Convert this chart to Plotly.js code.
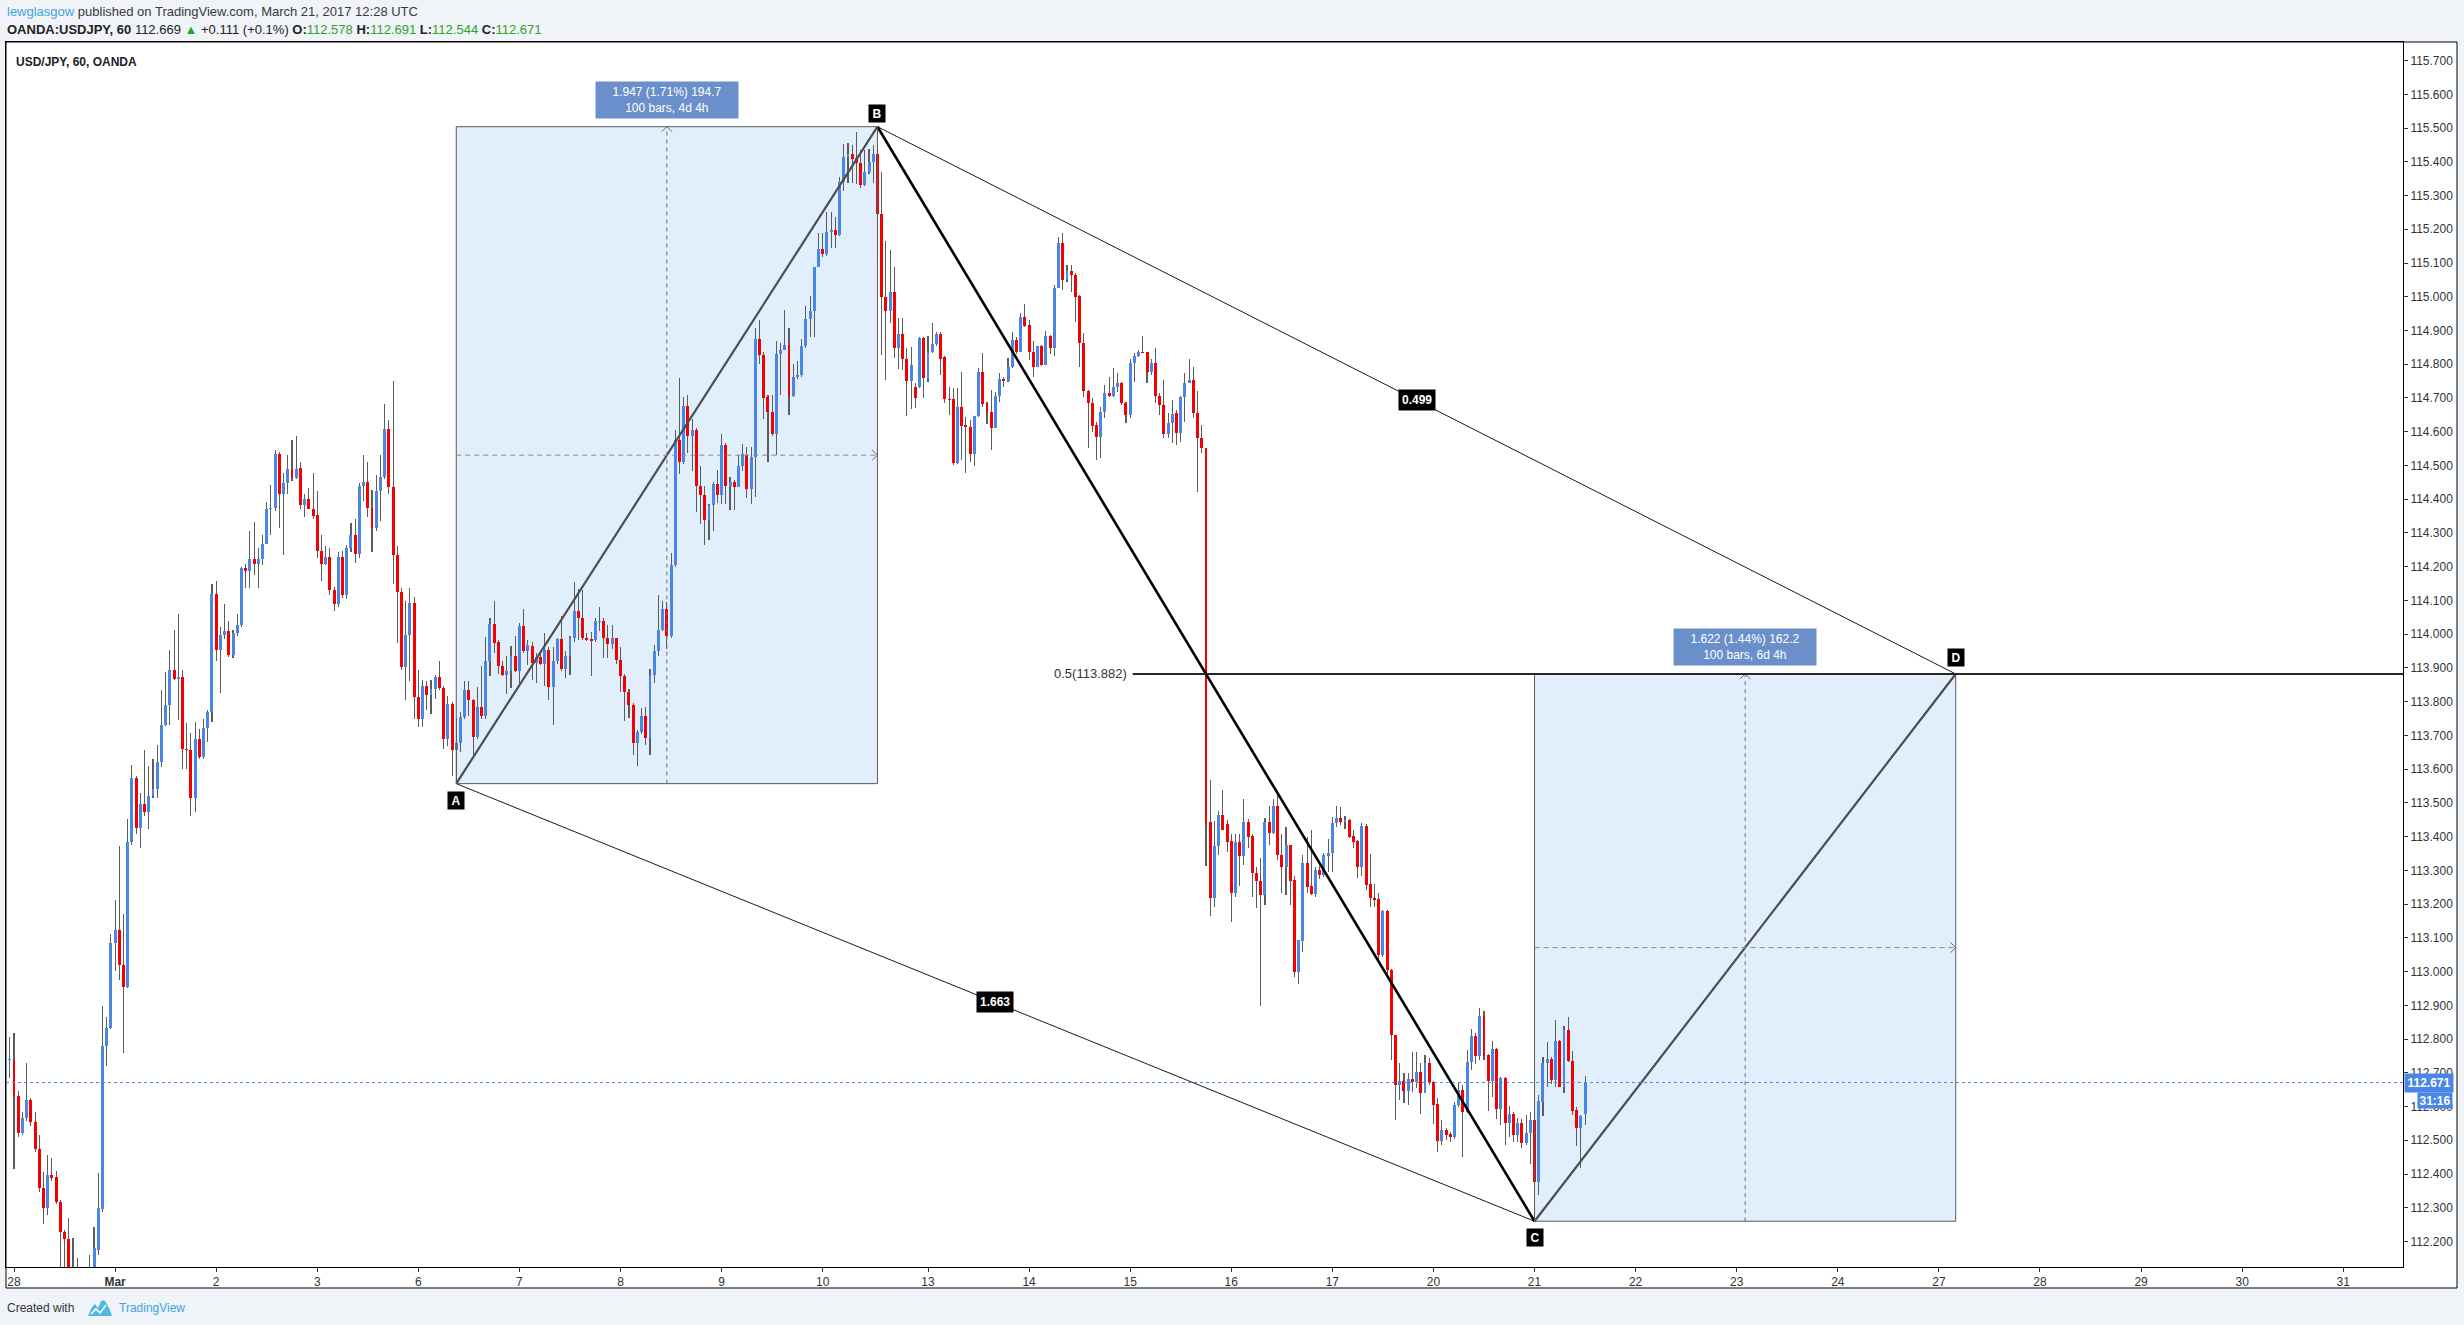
<!DOCTYPE html>
<html><head><meta charset="utf-8">
<script src="https://cdn.plot.ly/plotly-3.0.1.min.js"></script>
<style>
html,body{margin:0;padding:0;background:#f0f3f7;overflow:hidden}
#chart{width:2464px;height:1325px}
#chart .barlayer path{shape-rendering:crispEdges}
</style>
</head><body><div id="chart"></div>
<script>
// ---------------- DATA ----------------
const firstIdx = -2; // bar index of first value (bar 0 = Feb 28 00:00)
const open = [
112.69,112.737,112.737,112.630,112.521,112.567,112.618,112.555,112.473,112.358,112.300,112.397,
112.392,112.317,112.227,112.206,112.080,111.950,111.850,111.750,111.900,112.050,
112.176,112.295,112.780,112.834,113.086,113.123,113.018,112.953,113.383,113.574,
113.426,113.497,113.474,113.520,113.542,113.622,113.732,113.790,113.894,113.868,
113.872,113.661,113.656,113.514,113.688,113.637,113.722,113.770,114.120,113.952,
113.999,114.008,113.938,114.003,114.028,114.195,114.188,114.222,114.207,114.222,
114.268,114.370,114.375,114.535,114.414,114.447,114.489,114.464,114.493,114.382,
114.401,114.372,114.353,114.246,114.209,114.229,114.132,114.090,114.229,114.115,
114.256,114.294,114.239,114.438,114.452,114.375,114.316,114.425,114.467,114.608,
114.435,114.234,114.124,113.902,113.999,114.093,113.814,113.749,113.846,113.819,
113.838,113.873,113.839,113.690,113.792,113.656,113.676,113.754,113.834,113.804,
113.695,113.783,113.758,113.919,114.030,113.976,113.905,113.879,113.890,113.936,
113.892,114.025,113.949,113.966,113.916,113.932,113.913,113.953,113.843,113.919,
113.985,113.896,113.936,113.989,114.068,114.048,113.989,113.985,113.982,114.035,
114.038,113.989,113.972,113.989,113.923,113.876,113.830,113.790,113.678,113.711,
113.757,113.691,113.879,113.949,114.011,114.075,113.995,114.204,114.575,114.509,
114.677,114.588,114.604,114.439,114.412,114.339,114.382,114.445,114.412,114.562,
114.439,114.452,114.435,114.498,114.531,114.429,114.525,114.875,114.826,114.703,
114.657,114.593,114.829,114.842,114.858,114.707,114.763,114.769,114.855,114.935,
114.959,115.087,115.142,115.127,115.193,115.199,115.183,115.341,115.414,115.424,
115.411,115.395,115.332,115.371,115.398,115.424,115.244,115.000,114.959,115.015,
114.849,114.889,114.815,114.751,114.732,114.732,114.879,114.755,114.835,114.860,
114.889,114.820,114.696,114.696,114.506,114.674,114.620,114.613,114.533,114.647,
114.776,114.684,114.658,114.610,114.706,114.756,114.751,114.793,114.872,114.835,
114.939,114.916,114.835,114.791,114.855,114.798,114.884,114.849,115.025,115.158,
115.050,115.076,115.065,115.002,114.862,114.722,114.686,114.620,114.585,114.657,
114.714,114.706,114.732,114.743,114.684,114.650,114.803,114.825,114.835,114.835,
114.776,114.803,114.706,114.679,114.593,114.625,114.655,114.595,114.702,114.743,
114.753,114.655,114.580,114.551,113.444,113.219,113.372,113.464,113.437,113.387,
113.232,113.385,113.342,113.444,113.402,113.293,113.269,113.227,113.444,113.411,
113.490,113.345,113.311,113.375,113.271,112.999,113.091,113.321,113.253,113.230,
113.301,113.286,113.342,113.350,113.441,113.454,113.444,113.449,113.402,113.388,
113.311,113.431,113.259,113.217,113.214,113.049,113.180,113.006,112.812,112.663,
112.676,112.647,112.683,112.673,112.701,112.641,112.730,112.673,112.607,112.498,
112.530,112.518,112.510,112.604,112.649,112.584,112.733,112.809,112.750,112.868,
112.752,112.676,112.770,112.594,112.686,112.550,112.579,112.515,112.550,112.491,
112.523,112.560,112.377,112.614,112.730,112.740,112.678,112.795,112.659,112.827,
112.736,112.589,112.537,112.578];
const high = [
112.76,112.805,112.817,112.647,112.584,112.728,112.626,112.584,112.516,112.405,112.456,112.448,
112.409,112.324,112.235,112.269,112.210,112.150,111.950,112.000,112.159,112.244,
112.402,112.899,112.865,113.111,113.213,113.372,113.171,113.452,113.613,113.579,
113.528,113.656,113.610,113.630,113.671,113.834,113.889,113.953,114.013,114.059,
113.894,113.736,113.707,113.741,113.719,113.749,113.775,114.149,114.158,114.021,
114.090,114.038,114.013,114.059,114.200,114.209,114.307,114.331,114.256,114.294,
114.391,114.442,114.545,114.540,114.477,114.532,114.574,114.586,114.510,114.416,
114.433,114.477,114.425,114.294,114.260,114.256,114.141,114.243,114.246,114.263,
114.328,114.340,114.447,114.532,114.511,114.426,114.472,114.532,114.682,114.634,
114.750,114.260,114.137,114.098,114.137,114.110,113.894,113.865,113.860,113.865,
113.880,113.919,113.846,113.817,113.800,113.753,113.770,113.860,113.860,113.809,
113.843,113.906,113.991,114.047,114.098,113.982,113.919,113.936,113.966,113.995,
114.032,114.075,113.982,113.976,113.945,113.943,114.002,113.962,113.962,113.989,
114.055,113.949,113.995,114.154,114.134,114.130,114.002,114.006,114.048,114.081,
114.048,114.028,114.028,113.989,113.962,113.883,113.837,113.797,113.715,113.781,
113.784,113.896,113.969,114.115,114.099,114.095,114.240,114.604,114.760,114.703,
114.710,114.637,114.611,114.498,114.439,114.386,114.452,114.488,114.593,114.567,
114.465,114.458,114.531,114.564,114.554,114.554,114.906,114.932,114.836,114.710,
114.710,114.869,114.862,114.961,114.906,114.802,114.809,114.875,114.972,115.001,
115.087,115.190,115.189,115.252,115.252,115.236,115.355,115.453,115.457,115.451,
115.488,115.435,115.435,115.437,115.451,115.504,115.371,115.166,115.139,115.089,
114.936,114.936,114.847,114.850,114.743,114.882,114.882,114.884,114.921,114.897,
114.897,114.823,114.734,114.729,114.729,114.778,114.645,114.635,114.647,114.788,
114.832,114.689,114.724,114.719,114.773,114.763,114.818,114.897,114.882,114.951,
114.979,114.931,114.869,114.855,114.857,114.900,114.887,115.035,115.176,115.188,
115.094,115.094,115.070,115.005,114.892,114.724,114.699,114.630,114.674,114.739,
114.763,114.788,114.773,114.748,114.689,114.815,114.832,114.842,114.884,114.837,
114.815,114.849,114.714,114.753,114.655,114.694,114.664,114.706,114.773,114.815,
114.791,114.721,114.620,114.551,113.567,113.447,113.477,113.538,113.449,113.409,
113.409,113.409,113.511,113.451,113.409,113.311,113.338,113.454,113.490,113.510,
113.526,113.409,113.429,113.375,113.283,113.095,113.345,113.400,113.419,113.311,
113.313,113.350,113.392,113.459,113.490,113.488,113.461,113.451,113.421,113.390,
113.439,113.437,113.348,113.261,113.234,113.182,113.182,113.009,112.812,112.728,
112.698,112.698,112.762,112.762,112.728,112.754,112.743,112.676,112.624,112.560,
112.535,112.525,112.614,112.673,112.663,112.767,112.831,112.819,112.893,112.883,
112.757,112.794,112.772,112.688,112.688,112.601,112.584,112.565,112.562,112.575,
112.584,112.584,112.634,112.748,112.792,112.748,112.856,112.797,112.838,112.866,
112.765,112.599,112.575,112.691];
const low = [
112.64,112.686,112.414,112.511,112.516,112.558,112.541,112.465,112.346,112.252,112.278,112.380,
112.312,112.110,112.100,112.020,111.900,111.800,111.690,111.700,111.860,112.000,
112.159,112.286,112.720,112.831,113.001,112.975,112.759,112.950,113.375,113.409,
113.366,113.460,113.423,113.514,113.514,113.605,113.727,113.732,113.865,113.746,
113.600,113.600,113.460,113.474,113.630,113.630,113.681,113.741,113.919,113.826,
113.987,113.933,113.930,113.996,114.021,114.137,114.137,114.175,114.137,114.205,
114.268,114.294,114.365,114.314,114.234,114.416,114.455,114.459,114.370,114.348,
114.370,114.340,114.226,114.158,114.205,114.115,114.069,114.081,114.107,114.103,
114.243,114.212,114.226,114.396,114.348,114.243,114.307,114.336,114.460,114.416,
114.149,113.974,113.894,113.805,113.860,113.749,113.724,113.724,113.775,113.763,
113.809,113.834,113.659,113.669,113.579,113.557,113.651,113.749,113.758,113.639,
113.690,113.749,113.749,113.877,113.945,113.883,113.876,113.823,113.839,113.887,
113.856,113.943,113.909,113.863,113.856,113.909,113.847,113.804,113.731,113.913,
113.890,113.870,113.879,113.976,113.982,113.982,113.980,113.876,113.976,114.009,
113.929,113.929,113.956,113.913,113.830,113.744,113.751,113.641,113.609,113.704,
113.671,113.641,113.856,113.936,114.009,113.956,113.989,114.200,114.474,114.505,
114.538,114.485,114.363,114.326,114.263,114.280,114.306,114.390,114.386,114.386,
114.368,114.368,114.435,114.485,114.403,114.386,114.406,114.802,114.637,114.509,
114.588,114.531,114.710,114.842,114.650,114.703,114.756,114.763,114.849,114.882,
114.882,115.087,115.117,115.120,115.146,115.146,115.180,115.312,115.338,115.338,
115.334,115.321,115.329,115.365,115.338,115.113,114.827,114.753,114.921,114.818,
114.785,114.783,114.647,114.666,114.669,114.729,114.699,114.748,114.832,114.854,
114.768,114.686,114.650,114.500,114.504,114.516,114.477,114.511,114.497,114.645,
114.674,114.623,114.546,114.610,114.689,114.734,114.748,114.788,114.830,114.835,
114.911,114.813,114.763,114.791,114.795,114.798,114.830,114.823,115.025,115.020,
115.045,115.015,114.926,114.793,114.704,114.551,114.600,114.516,114.521,114.640,
114.704,114.704,114.719,114.679,114.625,114.640,114.748,114.821,114.832,114.743,
114.768,114.686,114.650,114.580,114.580,114.566,114.561,114.571,114.630,114.743,
114.640,114.422,114.536,113.313,113.165,113.192,113.345,113.419,113.355,113.148,
113.222,113.253,113.316,113.365,113.220,113.187,112.898,113.197,113.375,113.409,
113.332,113.234,113.227,113.197,112.985,112.963,113.059,113.232,113.227,113.222,
113.273,113.281,113.296,113.296,113.429,113.434,113.424,113.395,113.365,113.276,
113.283,113.241,113.192,113.192,113.034,113.044,112.980,112.738,112.560,112.619,
112.609,112.604,112.644,112.654,112.577,112.639,112.663,112.547,112.466,112.486,
112.500,112.496,112.505,112.599,112.449,112.582,112.708,112.726,112.738,112.738,
112.587,112.629,112.562,112.545,112.486,112.510,112.496,112.496,112.476,112.486,
112.431,112.260,112.337,112.572,112.659,112.668,112.659,112.657,112.641,112.733,
112.575,112.483,112.419,112.544];
const close = [
112.74,112.740,112.630,112.521,112.567,112.618,112.555,112.473,112.358,112.300,112.397,112.388,
112.317,112.227,112.206,112.080,111.950,111.850,111.750,111.900,112.050,112.181,
112.298,112.780,112.834,113.086,113.123,113.018,112.953,113.383,113.574,113.426,
113.497,113.474,113.520,113.542,113.622,113.732,113.790,113.894,113.868,113.872,
113.661,113.656,113.514,113.688,113.637,113.722,113.770,114.120,113.952,113.999,
114.008,113.938,114.003,114.028,114.195,114.188,114.222,114.207,114.222,114.268,
114.370,114.375,114.535,114.414,114.447,114.489,114.464,114.489,114.382,114.401,
114.372,114.350,114.246,114.209,114.229,114.132,114.090,114.229,114.115,114.256,
114.294,114.239,114.438,114.452,114.375,114.316,114.425,114.467,114.608,114.435,
114.234,114.124,113.902,113.999,114.093,113.814,113.749,113.846,113.819,113.838,
113.873,113.839,113.690,113.792,113.656,113.676,113.754,113.834,113.804,113.695,
113.783,113.758,113.919,114.030,113.975,113.905,113.879,113.890,113.936,113.892,
114.025,113.949,113.969,113.916,113.932,113.913,113.953,113.843,113.919,113.985,
113.896,113.936,113.989,114.068,114.048,113.989,113.982,113.980,114.038,114.038,
113.989,113.972,113.989,113.923,113.876,113.830,113.790,113.678,113.711,113.757,
113.691,113.879,113.949,114.011,114.075,113.995,114.204,114.575,114.509,114.677,
114.588,114.604,114.439,114.412,114.339,114.382,114.445,114.412,114.562,114.439,
114.452,114.435,114.498,114.535,114.429,114.525,114.875,114.826,114.699,114.657,
114.593,114.829,114.842,114.858,114.707,114.763,114.769,114.855,114.935,114.959,
115.087,115.142,115.127,115.193,115.199,115.183,115.341,115.414,115.424,115.408,
115.395,115.332,115.371,115.398,115.424,115.246,115.000,114.959,115.015,114.849,
114.889,114.815,114.751,114.798,114.699,114.879,114.758,114.835,114.860,114.889,
114.816,114.696,114.694,114.506,114.674,114.617,114.613,114.533,114.647,114.776,
114.682,114.657,114.610,114.706,114.756,114.751,114.793,114.872,114.835,114.939,
114.914,114.835,114.791,114.855,114.798,114.884,114.849,115.025,115.158,115.050,
115.076,115.065,115.000,114.862,114.722,114.686,114.618,114.585,114.657,114.714,
114.706,114.732,114.743,114.684,114.650,114.803,114.825,114.835,114.832,114.776,
114.803,114.706,114.679,114.593,114.625,114.653,114.595,114.702,114.743,114.753,
114.655,114.580,114.551,113.441,113.219,113.372,113.464,113.421,113.385,113.232,
113.385,113.342,113.444,113.400,113.293,113.269,113.227,113.444,113.411,113.490,
113.345,113.311,113.375,113.269,112.999,113.093,113.321,113.251,113.230,113.301,
113.286,113.345,113.350,113.441,113.454,113.444,113.449,113.400,113.385,113.311,
113.431,113.256,113.217,113.212,113.049,113.180,113.006,112.812,112.663,112.676,
112.647,112.683,112.673,112.701,112.641,112.730,112.673,112.604,112.498,112.530,
112.515,112.510,112.604,112.649,112.584,112.733,112.809,112.750,112.868,112.750,
112.676,112.770,112.594,112.685,112.550,112.579,112.515,112.550,112.491,112.523,
112.560,112.377,112.617,112.730,112.740,112.678,112.795,112.659,112.827,112.736,
112.587,112.537,112.572,112.671];

// time axis: bar index of each day start and its label
const dayTickIdx  = [0,24,48,72,96,120,144,168,192,217,241,265,289,313,337,361,385,409,433,457,481,505,529,553];
const dayTickText = ['28','Mar','2','3','6','7','8','9','10','13','14','15','16','17','20','21','22','23','24','27','28','29','30','31'];
// price axis ticks
const priceTicks = [112.2,112.3,112.4,112.5,112.6,112.7,112.8,112.9,113.0,113.1,113.2,113.3,113.4,113.5,113.6,113.7,113.8,113.9,114.0,114.1,114.2,114.3,114.4,114.5,114.6,114.7,114.8,114.9,115.0,115.1,115.2,115.3,115.4,115.5,115.6,115.7];

// ABCD pattern points (bar index, price)
const patName  = ['A','B','C','D'];
const patIdx   = [105, 205, 361, 461];
const patPrice = [113.557, 115.504, 112.260, 113.882];
const patRatios = ['1.663','0.499'];          // on A-C and B-D
const measTexts = [['1.947 (1.71%) 194.7','100 bars, 4d 4h'],['1.622 (1.44%) 162.2','100 bars, 6d 4h']];
const fibLevel = 113.882, fibText = '0.5(113.882)', fibStartIdx = 265.6;
const lastPrice = 112.671, countdown = '31:16';

// ---------------- GEOMETRY / STYLE ----------------
const W=2464,H=1325;
const paneL=6,paneR=2403,paneT=42,paneB=1267,axisR=2457,axisB=1288;
const bar0X=14, barPx=4.212;
const refY=667.9, refP=113.9, pxPerUnit=337.4;
const xr=[(paneL-bar0X)/barPx,(paneR-bar0X)/barPx];
const yr=[refP-(paneB-refY)/pxPerUnit, refP+(refY-paneT)/pxPerUnit];
const fx=x=>x/W, fy=y=>1-y/H;
const UP='#4a86e8', DN='#f50000', WICK='#5c5c5c';
const FONT='Liberation Sans, Arial, sans-serif';

const idx=open.map((_,k)=>k+firstIdx);
const bodyBase=open.map((o,k)=>Math.min(o,close[k]));
const bodyLen=open.map((o,k)=>Math.max(Math.abs(close[k]-o),0.004));
const bodyCol=open.map((o,k)=>close[k]>=o?UP:DN);

const traces=[];
traces.push({type:'bar',x:idx,base:low,y:high.map((h,k)=>h-low[k]),width:0.26,
  marker:{color:WICK,line:{width:0}},hoverinfo:'skip'});
traces.push({type:'bar',x:idx,base:bodyBase,y:bodyLen,width:0.7,
  marker:{color:bodyCol,line:{width:0}},hoverinfo:'skip'});

function seg(i,j,color,width){
  traces.push({type:'scatter',mode:'lines',x:[patIdx[i],patIdx[j]],y:[patPrice[i],patPrice[j]],
    line:{color:color,width:width},hoverinfo:'skip'});
}
seg(0,2,'#1a1a1a',1);   // A-C
seg(1,3,'#1a1a1a',1);   // B-D
seg(0,1,'#4d4d4d',2.2); // A-B
seg(1,2,'#000000',2.6); // B-C
seg(2,3,'#4d4d4d',2.2); // C-D

const shapes=[];
// outer frame (price + time axes area)
shapes.push({type:'rect',xref:'paper',yref:'paper',x0:fx(paneL),x1:fx(axisR),y0:fy(axisB),y1:fy(paneT),
  fillcolor:'#ffffff',line:{color:'#000',width:1},layer:'below'});

const chevX=1.25, chevY=0.015;
[[0,1],[2,3]].forEach(([a,b],m)=>{
  const x0=patIdx[a],x1=patIdx[b],y0=patPrice[a],y1=patPrice[b];
  const xm=(x0+x1)/2, ym=(y0+y1)/2;
  shapes.push({type:'rect',x0:x0,x1:x1,y0:y0,y1:y1,fillcolor:'#e1eefc',line:{width:0},layer:'below'});
  shapes.push({type:'rect',x0:x0,x1:x1,y0:y0,y1:y1,fillcolor:'rgba(0,0,0,0)',line:{color:'#5a5a5a',width:1}});
  shapes.push({type:'line',x0:xm,x1:xm,y0:y0,y1:y1,line:{color:'#707070',width:1,dash:'4px,4px'}});
  shapes.push({type:'line',x0:x0,x1:x1,y0:ym,y1:ym,line:{color:'#8a8a8a',width:1,dash:'5px,4px'}});
  traces.push({type:'scatter',mode:'lines',x:[xm-chevX,xm,xm+chevX],y:[y1-chevY,y1,y1-chevY],
    line:{color:'#707070',width:1},hoverinfo:'skip'});
  traces.push({type:'scatter',mode:'lines',x:[x1-chevX,x1,x1-chevX],y:[ym+chevY,ym,ym-chevY],
    line:{color:'#707070',width:1},hoverinfo:'skip'});
});
// fib 0.5 level
shapes.push({type:'line',x0:fibStartIdx,x1:xr[1],y0:fibLevel,y1:fibLevel,line:{color:'#262626',width:2}});
// last price line
shapes.push({type:'line',x0:xr[0],x1:xr[1],y0:lastPrice,y1:lastPrice,line:{color:UP,width:1,dash:'dot'}});
// TradingView logo (footer)
const logoPts=[[88,1316],[92,1307],[95,1304],[98,1308],[101,1301],[104,1300],[107,1304],[110,1310],[112,1316]];
shapes.push({type:'path',xref:'paper',yref:'paper',
  path:'M'+logoPts.map(p=>fx(p[0])+','+fy(p[1])).join(' L')+' Z',fillcolor:'#4fb8e6',line:{width:0}});
const logoZ=[[91,1314],[96,1309],[100,1313],[106,1305]];
shapes.push({type:'path',xref:'paper',yref:'paper',
  path:'M'+logoZ.map(p=>fx(p[0])+','+fy(p[1])).join(' L'),line:{color:'#ffffff',width:1.6}});

const ann=[];
const pshift=[-17,13,-16,16];
patName.forEach((n,k)=>ann.push({x:patIdx[k],y:patPrice[k],text:'<b>'+n+'</b>',showarrow:false,
  yshift:pshift[k],font:{family:FONT,size:12,color:'#fff'},bgcolor:'#000',borderpad:2,width:12,height:13}));
ann.push({x:(patIdx[0]+patIdx[2])/2,y:(patPrice[0]+patPrice[2])/2,text:'<b>'+patRatios[0]+'</b>',showarrow:false,
  font:{family:FONT,size:12,color:'#fff'},bgcolor:'#000',borderpad:3});
ann.push({x:(patIdx[1]+patIdx[3])/2,y:(patPrice[1]+patPrice[3])/2,text:'<b>'+patRatios[1]+'</b>',showarrow:false,
  font:{family:FONT,size:12,color:'#fff'},bgcolor:'#000',borderpad:3});
[[0,1],[2,3]].forEach(([a,b],m)=>{
  ann.push({x:(patIdx[a]+patIdx[b])/2,y:patPrice[b],yanchor:'bottom',yshift:8,showarrow:false,
    text:measTexts[m].join('<br>'),font:{family:FONT,size:12,color:'#fff'},bgcolor:'#6b8fca',borderpad:3,width:136});
});
ann.push({x:fibStartIdx,y:fibLevel,xanchor:'right',xshift:-4,showarrow:false,text:fibText,
  font:{family:FONT,size:13,color:'#333'}});
ann.push({xref:'paper',x:fx(paneR+1),xanchor:'left',y:lastPrice,showarrow:false,text:'<b>'+lastPrice.toFixed(3)+'</b>',
  font:{family:FONT,size:12,color:'#fff'},bgcolor:UP,borderpad:2,width:44,height:14});
ann.push({xref:'paper',x:fx(axisR-4),xanchor:'right',y:lastPrice,yshift:-18,showarrow:false,text:'<b>'+countdown+'</b>',
  font:{family:FONT,size:12,color:'#fff'},bgcolor:UP,borderpad:1,width:32,height:13});
// header / footer texts
const G='#2aa52a';
ann.push({xref:'paper',yref:'paper',x:fx(5),y:fy(12),xanchor:'left',yanchor:'middle',showarrow:false,
  text:'<span style="color:#3ea5de">lewglasgow</span> published on TradingView.com, March 21, 2017 12:28 UTC',
  font:{family:FONT,size:13,color:'#3a3a3a'}});
ann.push({xref:'paper',yref:'paper',x:fx(5),y:fy(30),xanchor:'left',yanchor:'middle',showarrow:false,
  text:'<b>OANDA:USDJPY, 60</b> 112.669 <span style="color:'+G+'">▲</span> +0.111 (+0.1%) <b>O:</b><span style="color:'+G+'">112.578</span> <b>H:</b><span style="color:'+G+'">112.691</span> <b>L:</b><span style="color:'+G+'">112.544</span> <b>C:</b><span style="color:'+G+'">112.671</span>',
  font:{family:FONT,size:13,color:'#222'}});
ann.push({xref:'paper',yref:'paper',x:fx(14),y:fy(62),xanchor:'left',yanchor:'middle',showarrow:false,
  text:'<b>USD/JPY, 60, OANDA</b>',font:{family:FONT,size:12,color:'#222'}});
ann.push({xref:'paper',yref:'paper',x:fx(5),y:fy(1308),xanchor:'left',yanchor:'middle',showarrow:false,
  text:'Created with',font:{family:FONT,size:12,color:'#333'}});
ann.push({xref:'paper',yref:'paper',x:fx(117),y:fy(1308),xanchor:'left',yanchor:'middle',showarrow:false,
  text:'TradingView',font:{family:FONT,size:12,color:'#3ea5de'}});

const layout={
  width:W,height:H,margin:{l:0,r:0,t:0,b:0},paper_bgcolor:'#f0f3f7',plot_bgcolor:'#ffffff',
  showlegend:false,barmode:'overlay',bargap:0,
  font:{family:FONT,size:12,color:'#333'},
  xaxis:{domain:[fx(paneL),fx(paneR)],range:xr,tickmode:'array',tickvals:dayTickIdx,
    ticktext:dayTickText.map(t=>t==='Mar'?'<b>Mar</b>':t),ticks:'outside',ticklen:4,tickcolor:'#333',
    tickfont:{family:FONT,size:12,color:'#333'},showgrid:false,zeroline:false,showline:true,linecolor:'#000',linewidth:1,mirror:true,fixedrange:true},
  yaxis:{domain:[fy(paneB),fy(paneT)],range:yr,side:'right',tickmode:'array',tickvals:priceTicks,
    ticktext:priceTicks.map(v=>v.toFixed(3)),ticks:'outside',ticklen:4,tickcolor:'#333',
    tickfont:{family:FONT,size:12,color:'#333'},showgrid:false,zeroline:false,showline:true,linecolor:'#000',linewidth:1,mirror:true,fixedrange:true},
  shapes:shapes,annotations:ann
};
Plotly.newPlot('chart',traces,layout,{staticPlot:true,displayModeBar:false});
</script></body></html>
